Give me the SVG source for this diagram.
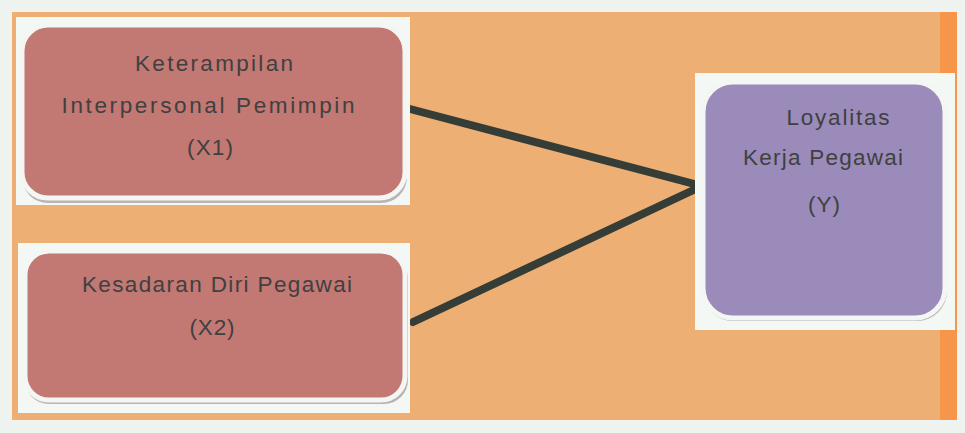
<svg xmlns="http://www.w3.org/2000/svg" width="965" height="433" viewBox="0 0 965 433">
  <style>
    .frame { fill: #f4f8f5; }
    .shadow { fill: #b9b4b4; }
    .red { fill: #c27873; stroke: #f4f6f4; stroke-width: 5; }
    .purple { fill: #9a8bbb; stroke: #f4f6f4; stroke-width: 5; }
    .lbl { font-family: "Liberation Sans", Arial, sans-serif; font-size: 22.5px; fill: #404040; text-anchor: middle; }
    .conn { stroke: #353d36; stroke-width: 8; stroke-linecap: round; fill: none; }
  </style>
  <rect x="0" y="0" width="965" height="433" fill="#eef3ef"/>
  <rect x="12" y="12" width="945" height="408" fill="#eeaf74"/>
  <rect x="940" y="12" width="17" height="408" fill="#f5964a"/>

  <g id="connectors">
    <line class="conn" x1="410" y1="109" x2="702" y2="186"/>
    <line class="conn" x1="413" y1="322" x2="702" y2="186"/>
  </g>

  <g id="node-x1">
    <rect class="frame" x="16" y="17" width="394" height="188"/>
    <rect class="shadow" x="22" y="28" width="385" height="175" rx="26"/>
    <rect class="red" x="22" y="25" width="383" height="173" rx="26"/>
    <text class="lbl" x="214" y="71" textLength="158" lengthAdjust="spacing">Keterampilan</text>
    <text class="lbl" x="208" y="113" textLength="293" lengthAdjust="spacing">Interpersonal Pemimpin</text>
    <text class="lbl" x="210" y="155" textLength="46" lengthAdjust="spacing">(X1)</text>
  </g>

  <g id="node-x2">
    <rect class="frame" x="18" y="243" width="392" height="170"/>
    <rect class="shadow" x="25" y="254" width="383" height="150" rx="24"/>
    <rect class="red" x="25" y="251" width="380" height="149" rx="24"/>
    <text class="lbl" x="217" y="292" textLength="270" lengthAdjust="spacing">Kesadaran Diri Pegawai</text>
    <text class="lbl" x="212" y="335" textLength="45" lengthAdjust="spacing">(X2)</text>
  </g>

  <g id="node-y">
    <rect class="frame" x="695" y="73" width="260" height="257"/>
    <rect class="shadow" x="703" y="85" width="244" height="236" rx="30"/>
    <rect class="purple" x="703" y="82" width="242" height="236" rx="30"/>
    <text class="lbl" x="838" y="125" textLength="103" lengthAdjust="spacing">Loyalitas</text>
    <text class="lbl" x="823" y="165" textLength="160" lengthAdjust="spacing">Kerja Pegawai</text>
    <text class="lbl" x="824" y="212" textLength="32" lengthAdjust="spacing">(Y)</text>
  </g>
</svg>
